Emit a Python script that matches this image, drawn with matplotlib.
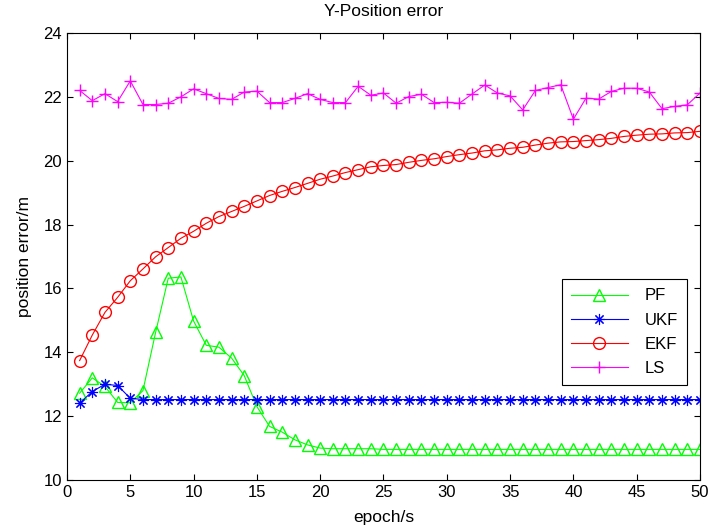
import matplotlib.pyplot as plt

plt.rcParams['font.family'] = ['Liberation Sans', 'DejaVu Sans']

# epoch index 1..50
epochs = list(range(1, 51))

pf = [12.72, 13.2, 12.93, 12.43, 12.42, 12.8, 14.62, 16.32, 16.36, 14.98,
      14.22, 14.16, 13.82, 13.27, 12.3, 11.68, 11.5, 11.26, 11.1, 11.0,
      10.98, 10.98, 10.98, 10.98, 10.96, 10.96, 10.96, 10.96, 10.96, 10.96,
      10.96, 10.96, 10.96, 10.96, 10.96, 10.96, 10.96, 10.96, 10.96, 10.96,
      10.96, 10.96, 10.96, 10.96, 10.96, 10.96, 10.96, 10.96, 10.96, 10.96]

ukf = [12.41, 12.77, 13.0, 12.96, 12.56] + [12.52] * 45

ekf = [13.74, 14.54, 15.25, 15.72, 16.24, 16.61, 16.99, 17.28, 17.57, 17.79,
       18.04, 18.25, 18.41, 18.57, 18.74, 18.91, 19.04, 19.16, 19.29, 19.42,
       19.52, 19.63, 19.72, 19.81, 19.85, 19.88, 19.95, 20.01, 20.06, 20.13,
       20.19, 20.24, 20.31, 20.34, 20.39, 20.42, 20.49, 20.55, 20.59, 20.6,
       20.63, 20.66, 20.7, 20.76, 20.8, 20.83, 20.84, 20.87, 20.88, 20.92]

ls = [22.2, 21.88, 22.1, 21.85, 22.5, 21.76, 21.76, 21.8, 22.0, 22.25,
      22.1, 21.95, 21.92, 22.15, 22.18, 21.82, 21.82, 21.95, 22.1, 21.92,
      21.82, 21.82, 22.33, 22.05, 22.12, 21.8, 22.01, 22.08, 21.82, 21.83,
      21.8, 22.09, 22.37, 22.12, 22.03, 21.59, 22.2, 22.29, 22.38, 21.3,
      21.96, 21.93, 22.17, 22.27, 22.27, 22.15, 21.63, 21.7, 21.75, 22.12]

fig = plt.figure(figsize=(7.11, 5.31), dpi=100)
ax = fig.add_axes([0.0942, 0.096, 0.8903, 0.8419])

ax.plot(epochs, pf, color=(0, 1, 0), marker='^', markersize=9,
        markerfacecolor='none', linewidth=0.8, label='PF')
ax.plot(epochs, ukf, color=(0, 0, 1), marker=(8, 2, 0), markersize=8,
        markeredgewidth=0.8, linewidth=0.8, label='UKF')
ax.plot(epochs, ekf, color=(1, 0, 0), marker='o', markersize=8.5,
        markerfacecolor='none', linewidth=0.8, label='EKF')
ax.plot(epochs, ls, color=(1, 0, 1), marker='+', markersize=9,
        linewidth=0.8, label='LS')

ax.set_xlim(0, 50)
ax.set_ylim(10, 24)
ax.set_xticks(range(0, 51, 5))
ax.set_yticks(range(10, 25, 2))
ax.tick_params(direction='in', length=4, width=0.8, labelsize=12,
               top=True, right=True)
for s in ax.spines.values():
    s.set_linewidth(0.8)

ax.set_title('Y-Position error', fontsize=12.5, pad=12)
ax.set_xlabel('epoch/s', fontsize=12.5, labelpad=7)
ax.set_ylabel('position error/m', fontsize=12.5, labelpad=8)

leg = ax.legend(loc='lower right', bbox_to_anchor=(0.979, 0.2125),
                borderaxespad=0, fontsize=12, fancybox=False,
                edgecolor='black', framealpha=1, handlelength=3.4,
                handletextpad=1.0, borderpad=0.55, labelspacing=0.55)
leg.get_frame().set_linewidth(0.8)

fig.savefig('out.png', dpi=100)
